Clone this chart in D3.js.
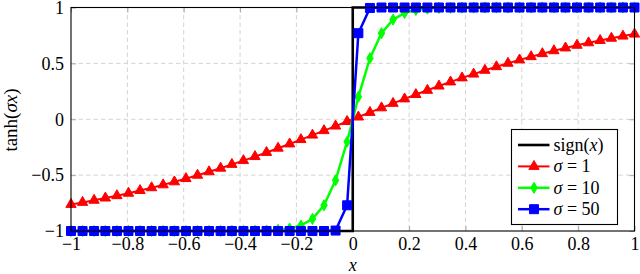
<!DOCTYPE html>
<html>
<head>
<meta charset="utf-8">
<script src="https://cdn.jsdelivr.net/npm/d3@7"></script>
<style>
  body { margin: 0; background: #fff; }
  text { font-family: "Liberation Serif", serif; }
</style>
</head>
<body>
<script>
   // sample positions (50 samples over [-1, 1])
   let xValues = [
      -1.000, -0.959, -0.918, -0.878, -0.837, -0.796, -0.755, -0.714, -0.673, -0.633,
      -0.592, -0.551, -0.510, -0.469, -0.429, -0.388, -0.347, -0.306, -0.265, -0.224,
      -0.184, -0.143, -0.102, -0.061, -0.020,
       0.020,  0.061,  0.102,  0.143,  0.184,  0.224,  0.265,  0.306,  0.347,  0.388,
       0.429,  0.469,  0.510,  0.551,  0.592,  0.633,  0.673,  0.714,  0.755,  0.796,
       0.837,  0.878,  0.918,  0.959,  1.000
   ];
   let sigma1 = [
      -0.762, -0.744, -0.725, -0.705, -0.684, -0.662, -0.638, -0.613, -0.587, -0.560,
      -0.531, -0.501, -0.470, -0.438, -0.404, -0.370, -0.334, -0.297, -0.259, -0.221,
      -0.182, -0.142, -0.102, -0.061, -0.020,
       0.020,  0.061,  0.102,  0.142,  0.182,  0.221,  0.259,  0.297,  0.334,  0.370,
       0.404,  0.438,  0.470,  0.501,  0.531,  0.560,  0.587,  0.613,  0.638,  0.662,
       0.684,  0.705,  0.725,  0.744,  0.762
   ];
   let sigma10 = [
      -1, -1, -1, -1, -1, -1, -1, -1, -1, -1,
      -1, -1, -1, -1, -0.9996, -0.9991, -0.998, -0.996, -0.990, -0.978,
      -0.951, -0.892, -0.770, -0.546, -0.201,
       0.201,  0.546,  0.770,  0.892,  0.951,  0.978,  0.990,  0.996,  0.998,  0.9991,
       0.9996, 1, 1, 1, 1, 1, 1, 1, 1, 1,
       1, 1, 1, 1, 1
   ];
   let sigma50 = [
      -1, -1, -1, -1, -1, -1, -1, -1, -1, -1,
      -1, -1, -1, -1, -1, -1, -1, -1, -1, -1,
      -1, -1, -0.9999, -0.996, -0.770,
       0.770,  0.996,  0.9999, 1, 1, 1, 1, 1, 1, 1,
       1, 1, 1, 1, 1, 1, 1, 1, 1, 1,
       1, 1, 1, 1, 1
   ];
   let signX = [-1, 0, 0, 1];
   let signY = [-1, -1, 1, 1];
   let xTicks = [-1, -0.8, -0.6, -0.4, -0.2, 0, 0.2, 0.4, 0.6, 0.8, 1];
   let yTicks = [-1, -0.5, 0, 0.5, 1];

   let width = 640;
   let height = 274;
   let plotLeft = 71, plotRight = 634.5, plotTop = 7.5, plotBottom = 231;
   let svg = d3.select('body').append('svg')
      .attr('width', width)
      .attr('height', height);

   let xScale = d3.scaleLinear().domain([-1, 1]).range([plotLeft, plotRight]);
   let yScale = d3.scaleLinear().domain([-1, 1]).range([plotBottom, plotTop]);
   let fmt = d3.format('~g');

   // grid
   let grid = svg.append('g')
      .attr('stroke', '#d4d4d4')
      .attr('stroke-dasharray', '4.5,3')
      .attr('stroke-width', 1);
   grid.selectAll('.gx')
      .data(xTicks.slice(1, -1))
      .enter()
      .append('line')
      .attr('x1', d => xScale(d)).attr('x2', d => xScale(d))
      .attr('y1', plotTop).attr('y2', plotBottom);
   grid.selectAll('.gy')
      .data(yTicks.slice(1, -1))
      .enter()
      .append('line')
      .attr('y1', d => yScale(d)).attr('y2', d => yScale(d))
      .attr('x1', plotLeft).attr('x2', plotRight);

   // axes with inward ticks
   let styleAxis = (g) => {
      g.select('.domain').remove();
      g.selectAll('.tick line').attr('stroke', '#a8a8a8');
      g.selectAll('.tick text')
         .attr('font-family', '"Liberation Serif", serif')
         .attr('font-size', 18)
         .attr('fill', '#000');
   };
   svg.append('g')
      .attr('transform', 'translate(0,' + plotBottom + ')')
      .call(d3.axisBottom(xScale).tickValues(xTicks).tickFormat(fmt).tickSize(-5).tickPadding(6))
      .call(styleAxis);
   svg.append('g')
      .attr('transform', 'translate(0,' + plotTop + ')')
      .call(d3.axisTop(xScale).tickValues(xTicks).tickFormat('').tickSize(-5))
      .call(styleAxis);
   svg.append('g')
      .attr('transform', 'translate(' + plotLeft + ',0)')
      .call(d3.axisLeft(yScale).tickValues(yTicks).tickFormat(fmt).tickSize(-5).tickPadding(7))
      .call(styleAxis);
   svg.append('g')
      .attr('transform', 'translate(' + plotRight + ',0)')
      .call(d3.axisRight(yScale).tickValues(yTicks).tickFormat('').tickSize(-5))
      .call(styleAxis);

   // series
   let line = d3.line().x(d => xScale(d[0])).y(d => yScale(d[1]));
   let series = [
      { name: 'sigma1', ys: sigma1, color: '#ff0000', width: 2, symbol: d3.symbolTriangle, size: 46 },
      { name: 'sigma10', ys: sigma10, color: '#00ff00', width: 2.5, symbol: d3.symbolDiamond, size: 36 },
      { name: 'sigma50', ys: sigma50, color: '#0000ff', width: 2.5, symbol: d3.symbolSquare, size: 81 }
   ];

   let marks = svg.append('g');
   marks.append('path')
      .datum(d3.zip(signX, signY))
      .attr('d', line)
      .attr('fill', 'none')
      .attr('stroke', '#000')
      .attr('stroke-width', 2.6);

   series.forEach(s => {
      let pts = d3.zip(xValues, s.ys);
      marks.append('path')
         .datum(pts)
         .attr('d', line)
         .attr('fill', 'none')
         .attr('stroke', s.color)
         .attr('stroke-width', s.width)
         .attr('stroke-linejoin', 'round');
      marks.selectAll('.m-' + s.name)
         .data(pts)
         .enter()
         .append('path')
         .attr('class', 'm-' + s.name)
         .attr('d', d3.symbol().type(s.symbol).size(s.size))
         .attr('transform', d => 'translate(' + xScale(d[0]) + ',' + yScale(d[1]) + ')')
         .attr('fill', s.color)
         .attr('stroke', s.color)
         .attr('stroke-width', 1);
   });

   // frame
   svg.append('rect')
      .attr('x', plotLeft).attr('y', plotTop)
      .attr('width', plotRight - plotLeft).attr('height', plotBottom - plotTop)
      .attr('fill', 'none')
      .attr('stroke', '#000')
      .attr('stroke-width', 1.1);

   // axis captions
   svg.append('text')
      .attr('x', xScale(0))
      .attr('y', 270.5)
      .attr('text-anchor', 'middle')
      .attr('font-size', 18)
      .attr('font-style', 'italic')
      .text('x');
   let yLabel = svg.append('text')
      .attr('transform', 'translate(17,120) rotate(-90)')
      .attr('text-anchor', 'middle')
      .attr('font-size', 19);
   yLabel.append('tspan').text('tanh(');
   yLabel.append('tspan').attr('font-style', 'italic').text('σx');
   yLabel.append('tspan').text(')');

   // legend
   let legend = svg.append('g');
   legend.append('rect')
      .attr('x', 511.5).attr('y', 129.5)
      .attr('width', 106).attr('height', 95)
      .attr('fill', '#fff')
      .attr('stroke', '#000')
      .attr('stroke-width', 1.1);
   let legendRows = [
      { color: '#000', width: 2.6, symbol: null },
      series[0], series[1], series[2]
   ];
   let legendLabels = [
      [['sign(', 'normal'], ['x', 'italic'], [')', 'normal']],
      [['σ', 'italic'], [' = 1', 'normal']],
      [['σ', 'italic'], [' = 10', 'normal']],
      [['σ', 'italic'], [' = 50', 'normal']]
   ];
   legendRows.forEach((r, i) => {
      let cy = 145 + i * 21.4;
      legend.append('line')
         .attr('x1', 518).attr('x2', 549.5)
         .attr('y1', cy).attr('y2', cy)
         .attr('stroke', r.color)
         .attr('stroke-width', r.width);
      if (r.symbol) {
         legend.append('path')
            .attr('d', d3.symbol().type(r.symbol).size(r.size))
            .attr('transform', 'translate(534,' + cy + ')')
            .attr('fill', r.color)
            .attr('stroke', r.color);
      }
      let t = legend.append('text')
         .attr('x', 553.5)
         .attr('y', cy + 6)
         .attr('font-size', 18);
      legendLabels[i].forEach(p => {
         t.append('tspan').attr('font-style', p[1]).text(p[0]);
      });
   });
</script>
</body>
</html>
